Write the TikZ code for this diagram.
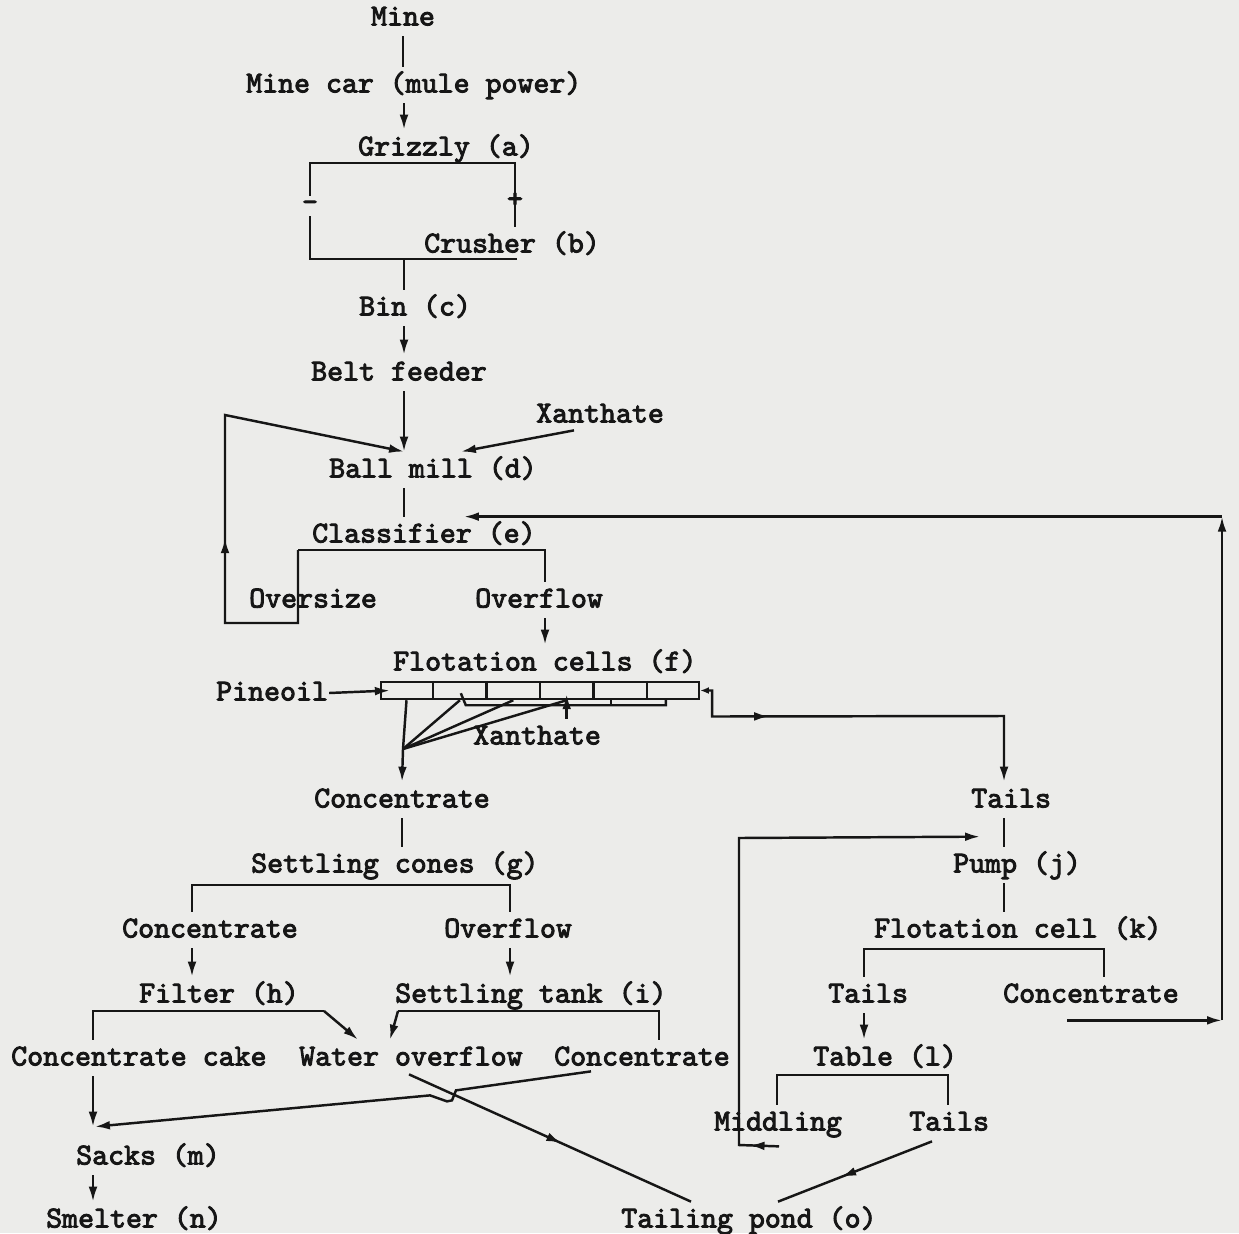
\documentclass[tikz,border=0pt]{standalone}
\usepackage{fontspec}
\newfontfamily\typewriter{lmmono10-regular}[Extension=.otf, FakeBold=3]
\usetikzlibrary{arrows.meta,calc,decorations.markings}
\definecolor{paper}{RGB}{236,236,234}
\definecolor{ink}{RGB}{22,22,22}
\tikzset{
  lbl/.style={anchor=west, inner xsep=0pt, inner ysep=2pt, text height=12pt, text depth=3.5pt, text=ink,
    font=\fontsize{17.3}{20}\selectfont\typewriter},
  sign/.style={inner sep=0pt, text=ink, font=\fontsize{17.3}{20}\selectfont\typewriter},
  flow/.style={-{Latex[length=8.5pt,width=5pt]}},
  midflow/.style={postaction={decorate}, decoration={markings, mark=at position #1 with {\arrow{Latex[length=8.5pt,width=5pt]}}}}
}
\begin{document}
\begin{tikzpicture}[x=0.02cm, y=-0.02cm, line width=1.4pt, draw=ink]
    \fill[paper] (0,0) rectangle (1239,1233);
    \useasboundingbox (0,0) rectangle (1239,1233);

    % labels
    \node[lbl, anchor=center] (mine) at (403,18) {Mine};
    \node[lbl] (minecar) at (245,85) {Mine car (mule power)};
    \node[lbl] (grizzly) at (357,148) {Grizzly (a)};
    \node[lbl] (crusher) at (423,245) {Crusher (b)};
    \node[lbl] (bin) at (358,308) {Bin (c)};
    \node[lbl] (belt) at (310,373) {Belt feeder};
    \node[lbl] (xanA) at (535,415) {Xanthate};
    \node[lbl] (ballmill) at (328,470) {Ball mill (d)};
    \node[lbl] (classifier) at (311,535) {Classifier (e)};
    \node[lbl] (oversize) at (248,600) {Oversize};
    \node[lbl] (overflowA) at (474,600) {Overflow};
    \node[lbl] (flotcells) at (392,663) {Flotation cells (f)};
    \node[lbl] (pineoil) at (215,693) {Pineoil};
    \node[lbl] (xanB) at (472,737) {Xanthate};
    \node[lbl] (concA) at (313,800) {Concentrate};
    \node[lbl] (tailsA) at (970,800) {Tails};
    \node[lbl] (cones) at (250,865) {Settling cones (g)};
    \node[lbl] (pump) at (952,865) {Pump (j)};
    \node[lbl] (concB) at (121,930) {Concentrate};
    \node[lbl] (overflowB) at (443,930) {Overflow};
    \node[lbl] (flotcell) at (873,930) {Flotation cell (k)};
    \node[lbl] (filter) at (138,995) {Filter (h)};
    \node[lbl] (tank) at (394,995) {Settling tank (i)};
    \node[lbl] (tailsB) at (827,995) {Tails};
    \node[lbl] (concC) at (1002,995) {Concentrate};
    \node[lbl] (cake) at (10,1058) {Concentrate cake};
    \node[lbl] (water) at (298,1058) {Water overflow};
    \node[lbl] (concD) at (553,1058) {Concentrate};
    \node[lbl] (table) at (812,1058) {Table (l)};
    \node[lbl] (middling) at (713,1123) {Middling};
    \node[lbl] (tailsC) at (908,1123) {Tails};
    \node[lbl] (sacks) at (75,1157) {Sacks (m)};
    \node[lbl] (smelter) at (45,1220) {Smelter (n)};
    \node[lbl] (pond) at (620,1220) {Tailing pond (o)};

    % flotation cells
    \node[draw, minimum width=6.36cm, minimum height=0.34cm, inner sep=0pt] (cells) at (540,690.5) {};
    \foreach \k in {1,...,5}
        \draw ($(cells.north west)!\k/6!(cells.north east)$) -- ($(cells.south west)!\k/6!(cells.south east)$);
    \draw ($(cells.south west)+(81,-7)$) -- ++(5,12) -- ++(200,0) -- ++(0,-5);
    \draw ($(cells.south west)+(231,0)$) -- ++(0,5);

    % junctions
    \coordinate (trunk) at (404,0);
    \coordinate (gzTL) at (310,163);
    \coordinate (gzTR) at (515,163);
    \coordinate (gzBL) at (310,259);
    \coordinate (gzBR) at (517,259);
    \coordinate (clL) at (298,550);
    \coordinate (clR) at (545,550);
    \coordinate (ovB) at (298,623);
    \coordinate (ovL) at (225,623);
    \coordinate (ovT) at (225,415);
    \coordinate (hub) at (403,749);
    \coordinate (tlJ) at (1004,716);
    \coordinate (gL) at (192,885);
    \coordinate (gR) at (510,885);
    \coordinate (fkL) at (864,949);
    \coordinate (fkR) at (1104,949);
    \coordinate (fhL) at (93,1011);
    \coordinate (fhR) at (324,1011);
    \coordinate (tiL) at (398,1011);
    \coordinate (tiR) at (659,1011);
    \coordinate (tbL) at (777,1075);
    \coordinate (tbR) at (948,1075);
    \coordinate (rtS) at ($(concC.south west)+(65,7)$);
    \coordinate (rtT) at (classifier.north -| 1222,0);
    \coordinate (clsIn) at ($(classifier.north west)+(153,0)$);
    \coordinate (mdS) at ($(middling.south west)+(66,5)$);
    \coordinate (lpB) at (739,1145);
    \coordinate (lpT) at (739,838);
    \coordinate (pmIn) at ($(pump.north west)+(28,-10)$);
    \coordinate (skIn) at ($(sacks.north west)+(20,-12)$);

    % crushing
    \draw (mine.south) -- (minecar.north -| mine.south);
    \draw[flow] (minecar.south -| trunk) -- (grizzly.north -| trunk);
    \draw (gzBR) -- (gzBL) -- (gzTL) -- (gzTR) -- (gzTR |- crusher.north);
    \node[sign] (plus) at (515,200) {+};
    \node[sign, fill=paper, minimum height=0.4cm] (minus) at (310,206) {-};
    \draw (gzBL -| trunk) -- (bin.north -| trunk);
    \draw[flow] (bin.south -| trunk) -- (belt.north -| trunk);
    \draw[flow] (belt.south -| trunk) -- (ballmill.north -| trunk);
    \draw[flow] ($(xanA.south west)+(39,-3)$) -- ($(ballmill.north west)+(133,0)$);

    % grinding
    \draw (ballmill.south -| trunk) -- (classifier.north -| trunk);
    \draw (clL) -- (clR) -- (clR |- overflowA.north);
    \draw[flow, midflow=0.43] (clL) -- (ovB) -- (ovL) -- (ovT) -- (ballmill.north -| trunk);
    \draw[flow] (overflowA.south -| clR) -- (flotcells.north -| clR);

    % flotation
    \draw[flow] (pineoil.east) -- ($(cells.west)+(10,0)$);
    \draw[flow] (xanB.north -| {$(cells.south west)!3.5/6!(cells.south east)$}) -- ($(cells.south west)!3.5/6!(cells.south east)+(0,-6)$);
    \foreach \k in {0.5,1.5,2.5,3.5}
        \draw ($(cells.south west)!\k/6!(cells.south east)$) -- (hub);
    \draw[flow] (hub) -- (concA.north);
    \draw[{Latex[length=5pt,width=4pt]}-{Latex[length=8.5pt,width=5pt]}, midflow=0.24] (cells.east) -- ++(12,0) -- ++(0,26) -- (tlJ) -- (tailsA.north -| tlJ);

    % concentrate
    \draw (concA.south) -- (cones.north -| concA.south);
    \draw (concB.north -| gL) -- (gL) -- (gR) -- (overflowB.north -| gR);
    \draw[flow] (concB.south -| gL) -- (filter.north -| gL);
    \draw[flow] (overflowB.south -| gR) -- (tank.north -| gR);
    \draw (cake.north -| fhL) -- (fhL) -- (fhR);
    \draw[flow] (fhR) -- ($(water.north west)+(60,0)$);
    \draw (concD.north -| tiR) -- (tiR) -- (tiL);
    \draw[flow] (tiL) -- ($(water.north west)+(92,0)$);
    \draw[flow] (cake.south -| fhL) -- (skIn -| fhL);
    \draw[flow] ($(concD.south west)+(38,-5)$) -- ++(-135,19) -- ++(-4,10) -- ++(-5,1) -- ++(-17,-6) -- (skIn);
    \draw[flow] (sacks.south -| fhL) -- (smelter.north -| fhL);
    \draw[midflow=0.54] ($(water.south west)+(111,-2)$) -- ($(pond.north west)+(71,0)$);

    % tails
    \draw (tailsA.south -| tlJ) -- (pump.north -| tlJ);
    \draw (pump.south -| tlJ) -- (flotcell.north -| tlJ);
    \draw (tailsB.north -| fkL) -- (fkL) -- (fkR) -- (concC.north -| fkR);
    \draw[flow] (tailsB.south -| fkL) -- (table.north -| fkL);
    \draw[flow] (rtS) -- (rtS -| rtT);
    \draw[flow] (rtS -| rtT) -- (rtT);
    \draw[flow] (rtT) -- (clsIn);
    \draw (middling.north -| tbL) -- (tbL) -- (tbR) -- (tailsC.north -| tbR);
    \draw[flow, midflow=0.05] (mdS) -- (lpB) -- (lpT) -- (pmIn);
    \draw[midflow=0.59] ($(tailsC.south west)+(24,0)$) -- ($(pond.north west)+(158,0)$);
\end{tikzpicture}
\end{document}
